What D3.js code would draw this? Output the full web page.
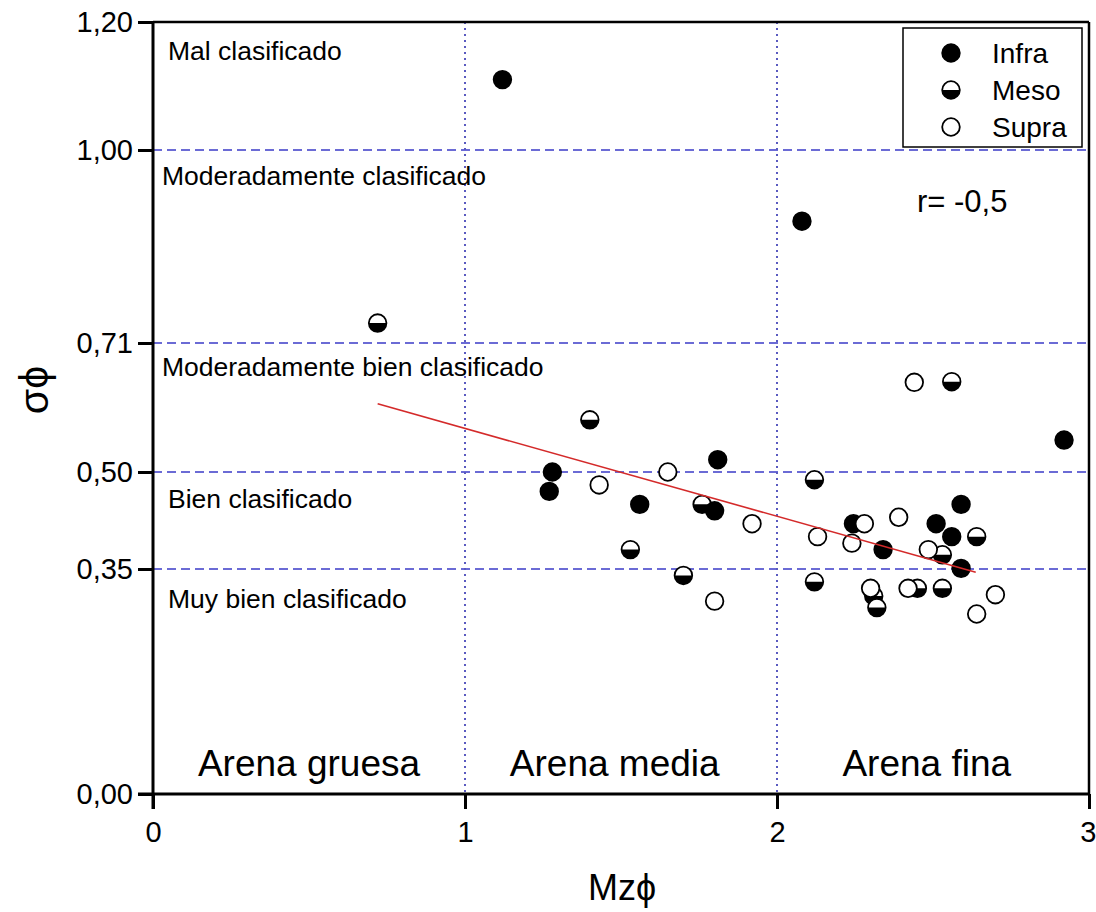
<!DOCTYPE html>
<html>
<head>
<meta charset="utf-8">
<script src="https://cdn.jsdelivr.net/npm/d3@7"></script>
<style>
  body { margin: 0; background: #fff; }
  text { font-family: "Liberation Sans", Arial, Helvetica, sans-serif; fill: #000; }
</style>
</head>
<body>
<svg id="chart" width="1096" height="912"></svg>
<script>
// Mean grain size (Mzφ) and sorting (σφ) per beach level
const infraMz    = [1.12, 2.08, 1.28, 1.27, 1.56, 1.81, 1.80, 2.92, 2.59, 2.245, 2.51, 2.56, 2.34, 2.59];
const infraSigma = [1.11, 0.893, 0.50, 0.47, 0.45, 0.52, 0.44, 0.552, 0.45, 0.42, 0.42, 0.40, 0.38, 0.351];

const mesoMz    = [0.72, 1.40, 1.76, 1.53, 1.70, 2.56, 2.12, 2.64, 2.53, 2.12, 2.31, 2.32, 2.45, 2.53];
const mesoSigma = [0.74, 0.585, 0.45, 0.38, 0.34, 0.647, 0.488, 0.40, 0.372, 0.33, 0.308, 0.29, 0.32, 0.32];

const supraMz    = [1.43, 1.65, 1.92, 1.80, 2.44, 2.28, 2.39, 2.13, 2.24, 2.485, 2.30, 2.42, 2.64, 2.70];
const supraSigma = [0.48, 0.50, 0.42, 0.30, 0.646, 0.42, 0.43, 0.40, 0.39, 0.38, 0.32, 0.32, 0.28, 0.31];

// Regression line end points
const trendMz    = [0.72, 2.637];
const trendSigma = [0.611, 0.345];

// Axis ticks
const xTicks = [0, 1, 2, 3];
const xTickLabels = ["0", "1", "2", "3"];
const yTicks = [0, 0.35, 0.50, 0.71, 1.00, 1.20];
const yTickLabels = ["0,00", "0,35", "0,50", "0,71", "1,00", "1,20"];

// Folk & Ward class limits
const sortingLimits = [0.35, 0.50, 0.71, 1.00];
const sortingClasses = ["Mal clasificado", "Moderadamente clasificado", "Moderadamente bien clasificado", "Bien clasificado", "Muy bien clasificado"];
const sortingLabelY = [1.20, 1.00, 0.71, 0.50, 0.35];
const sizeLimits = [1, 2];
const sizeClasses = ["Arena gruesa", "Arena media", "Arena fina"];
const sizeClassMz = [0.5, 1.48, 2.48];

const legendNames = ["Infra", "Meso", "Supra"];
const rText = "r= -0,5";

const svg = d3.select("#chart");
const L = 153, R = 1089, T = 22, B = 794;

const x = d3.scaleLinear().domain([0, 3]).range([L, R]);
const y = d3.scaleLinear().domain(yTicks).range([794, 569, 472, 343, 150, 22]);

const blue = "#3b3bc8";

// horizontal class limits (dashed)
svg.append("g").selectAll("line").data(sortingLimits).join("line")
  .attr("x1", L).attr("x2", R)
  .attr("y1", d => y(d)).attr("y2", d => y(d))
  .attr("stroke", blue).attr("stroke-width", 1.6)
  .attr("stroke-dasharray", "9,5");

// vertical class limits (dotted)
svg.append("g").selectAll("line").data(sizeLimits).join("line")
  .attr("x1", d => x(d)).attr("x2", d => x(d))
  .attr("y1", T).attr("y2", B)
  .attr("stroke", "#5a5ac0").attr("stroke-width", 2)
  .attr("stroke-dasharray", "2,4");

// sorting class labels
const labelOffset = [38, 35, 33, 36, 39];
svg.append("g").selectAll("text").data(sortingClasses).join("text")
  .attr("x", (d, i) => i === 1 || i === 2 ? 162 : 168)
  .attr("y", (d, i) => y(sortingLabelY[i]) + labelOffset[i])
  .attr("font-size", 26.5)
  .text(d => d);

// grain size labels
svg.append("g").selectAll("text").data(sizeClasses).join("text")
  .attr("x", (d, i) => x(sizeClassMz[i]))
  .attr("y", 776)
  .attr("text-anchor", "middle")
  .attr("font-size", 37)
  .text(d => d);

// frame top and right
svg.append("line").attr("x1", L).attr("x2", R).attr("y1", T).attr("y2", T)
  .attr("stroke", "#000").attr("stroke-width", 2.5);
svg.append("line").attr("x1", R).attr("x2", R).attr("y1", T).attr("y2", B)
  .attr("stroke", "#000").attr("stroke-width", 2.5);

// axes
const xAxis = d3.axisBottom(x).tickValues(xTicks).tickFormat((d, i) => xTickLabels[i])
  .tickSizeInner(15).tickSizeOuter(0).tickPadding(12);
const gx = svg.append("g").attr("transform", `translate(0,${B})`).call(xAxis);
const yAxis = d3.axisLeft(y).tickValues(yTicks).tickFormat((d, i) => yTickLabels[i])
  .tickSizeInner(15).tickSizeOuter(0).tickPadding(5);
const gy = svg.append("g").attr("transform", `translate(${L},0)`).call(yAxis);
[gx, gy].forEach(g => {
  g.select(".domain").attr("stroke", "#000").attr("stroke-width", 3);
  g.selectAll(".tick line").attr("stroke", "#000").attr("stroke-width", 3);
  g.selectAll(".tick text").attr("font-size", 29).attr("font-family", "Liberation Sans, Arial, sans-serif").attr("fill", "#000");
});
// keep the last x label inside the canvas
gx.selectAll(".tick text").filter(d => d === 3).attr("text-anchor", "end").attr("dx", 7);
gy.select(".domain").attr("d", `M0,${B + 15}V${T - 1}`);
gx.select(".domain").attr("d", `M${L - 15},0H${R}`);

// axis titles
svg.append("text").attr("x", 622).attr("y", 900).attr("text-anchor", "middle")
  .attr("font-size", 36).text("Mzϕ");
svg.append("text").attr("transform", "translate(48,390) rotate(-90)")
  .attr("text-anchor", "middle").attr("font-size", 41).text("σϕ");

// markers
const r = 8.8;
const halfArc = d3.arc()({ innerRadius: 0, outerRadius: r, startAngle: Math.PI / 2, endAngle: 3 * Math.PI / 2 });

function drawMarker(g, kind) {
  if (kind === "Infra") {
    g.append("circle").attr("r", r).attr("fill", "#000").attr("stroke", "#000").attr("stroke-width", 1.8);
  } else if (kind === "Meso") {
    g.append("circle").attr("r", r).attr("fill", "#fff");
    g.append("path").attr("d", halfArc).attr("fill", "#000");
    g.append("circle").attr("r", r).attr("fill", "none").attr("stroke", "#000").attr("stroke-width", 1.8);
  } else {
    g.append("circle").attr("r", r).attr("fill", "#fff").attr("stroke", "#000").attr("stroke-width", 1.8);
  }
}

const series = [
  { name: "Meso", mz: mesoMz, s: mesoSigma },
  { name: "Infra", mz: infraMz, s: infraSigma },
  { name: "Supra", mz: supraMz, s: supraSigma }
];
series.forEach(ser => {
  const g = svg.append("g");
  ser.mz.forEach((m, i) => {
    const mg = g.append("g").attr("transform", `translate(${x(m)},${y(ser.s[i])})`);
    drawMarker(mg, ser.name);
  });
});

// regression line
svg.append("line")
  .attr("x1", x(trendMz[0])).attr("y1", y(trendSigma[0]))
  .attr("x2", x(trendMz[1])).attr("y2", y(trendSigma[1]))
  .attr("stroke", "#d42a2a").attr("stroke-width", 1.6);

svg.append("text").attr("x", 917).attr("y", 212).attr("font-size", 31).text(rText);

// legend
const lg = svg.append("g");
lg.append("rect").attr("x", 903).attr("y", 28).attr("width", 179).attr("height", 119)
  .attr("fill", "#fff").attr("stroke", "#000").attr("stroke-width", 1.5);
const legendY = d3.scalePoint().domain(legendNames).range([53, 127]);
legendNames.forEach(n => {
  const mg = lg.append("g").attr("transform", `translate(951,${legendY(n)})`);
  drawMarker(mg, n);
  lg.append("text").attr("x", 992).attr("y", legendY(n) + 10).attr("font-size", 28).text(n);
});
</script>
</body>
</html>
